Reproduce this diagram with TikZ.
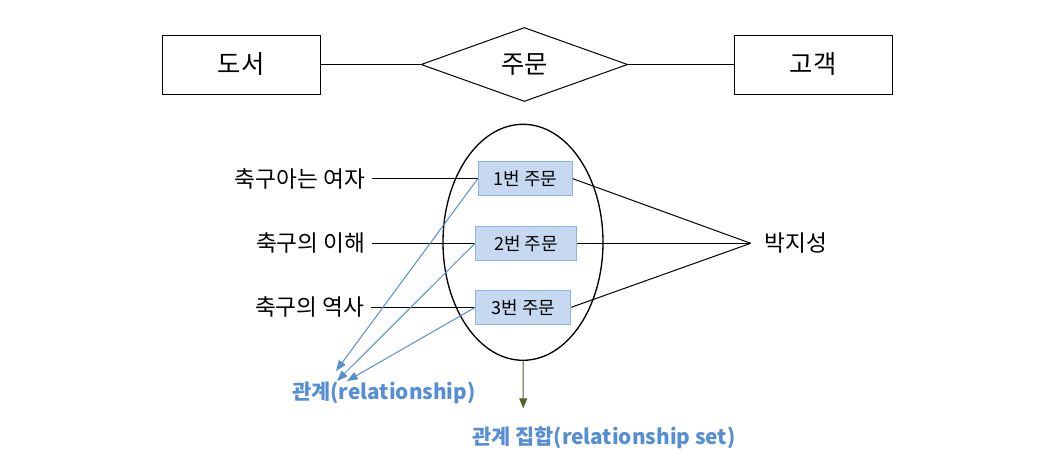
\documentclass[tikz,border=0pt]{standalone}
\usepackage{fontspec}
\setmainfont{Noto Sans CJK KR}
\usetikzlibrary{arrows.meta, positioning, shapes.geometric}
\definecolor{ordfill}{HTML}{C6D9F1}
\definecolor{orddraw}{HTML}{8EB4E3}
\definecolor{relblue}{HTML}{558ED5}
\definecolor{setgreen}{HTML}{4F6228}

\begin{document}
\begin{tikzpicture}[x=0.75pt, y=-0.75pt,
      entity/.style={rectangle, draw, line width=0.75pt, minimum width=118.5pt,
                     minimum height=44.25pt, font=\fontsize{19}{22}\selectfont},
      relship/.style={diamond, draw, line width=0.75pt, aspect=2.8, inner sep=0pt,
                      minimum width=155pt, minimum height=55.5pt, font=\fontsize{19}{22}\selectfont},
      ordbox/.style={rectangle, draw=orddraw, fill=ordfill, line width=0.75pt,
                     minimum height=25.5pt, font=\fontsize{13.5}{15}\selectfont},
      lbl/.style={inner xsep=5pt, font=\fontsize{17}{20}\selectfont},
      reltext/.style={text=relblue, font=\bfseries\fontsize{15.6}{19}\selectfont},
      link/.style={line width=0.75pt},
      arr/.style={-{Triangle[length=8pt, width=6pt]}, line width=0.75pt, relblue}
    ]
      \useasboundingbox (0,0) rectangle (1058,468);
      % E-R schema
      \node[entity] (book) at (241,64.5) {도서};
      \node[relship, right=75pt of book] (order) {주문};
      \node[entity, right=79pt of order] (cust) {고객};
      \draw[link] (book) -- (order);
      \draw[link] (order) -- (cust);

      % instances
      \node[ellipse, draw, line width=1pt, minimum width=120pt, minimum height=177pt] (set) at (523,242.3) {};
      \node[ordbox, minimum width=70.5pt] (o1) at (525.3,178.7) {1번 주문};
      \node[ordbox, minimum width=75.75pt] (o2) at (526,243.3) {2번 주문};
      \node[ordbox, minimum width=71.25pt] (o3) at (523.3,307.3) {3번 주문};
      \node[lbl, left=79.5pt of o1] (b1) {축구아는 여자};
      \node[lbl, left=77pt of o2] (b2) {축구의 이해};
      \node[lbl, left=78pt of o3] (b3) {축구의 역사};
      \node[lbl, anchor=west, inner xsep=10.5pt] (park) at (750.7,243.3) {박지성};
      \draw[link] (b1) -- (o1);
      \draw[link] (b2) -- (o2);
      \draw[link] (b3) -- (o3);
      \draw[link] (o1.east) -- (park.west);
      \draw[link] (o2.east) -- (park.west);
      \draw[link] (o3.east) -- (park.west);

      % labels
      \node[reltext] (rel) at (384,393.3) {관계(relationship)};
      \node[reltext] (relset) at (604,438.3) {관계 집합(relationship set)};
      \coordinate (t1) at (336,371);
      \coordinate (t2) at (337,381);
      \coordinate (t3) at (347,381);
      \coordinate (settip) at (523.3,408.3);
      \draw[arr] (o1.west) -- (t1);
      \draw[arr] (o2.west) -- (t2);
      \draw[arr] (o3.west) -- (t3);
      \draw[-{Triangle[length=7.5pt, width=6pt]}, line width=0.75pt, setgreen] (set.south) -- (settip);
    \end{tikzpicture}
\end{document}
